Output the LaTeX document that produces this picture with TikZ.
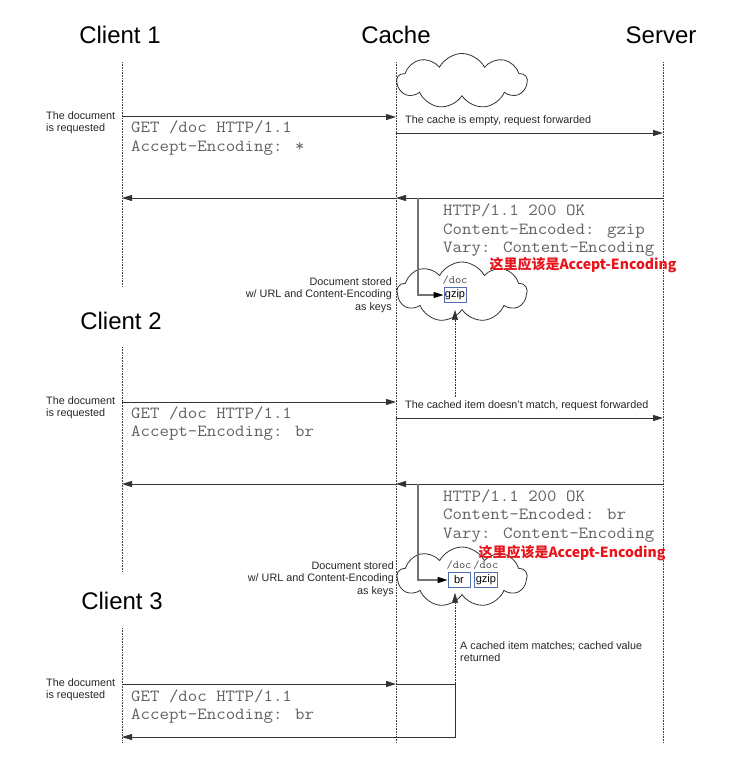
\documentclass[tikz,border=0pt]{standalone}
\usepackage{fontspec}
\setmainfont{Liberation Sans}
\newfontfamily\httpfont{Latin Modern Mono}[FakeStretch=1.08]
\newfontfamily\cjk{Noto Sans CJK SC}
\usetikzlibrary{positioning,arrows.meta,shapes.symbols}
\definecolor{warnred}{RGB}{232,20,28}
\definecolor{keyblue}{RGB}{80,110,175}

\begin{document}
\begin{tikzpicture}[x=1pt, y=-1pt,
    title/.style={font=\fontsize{24}{28}\selectfont, inner sep=0},
    lifeline/.style={densely dotted, line width=0.6pt, black!75},
    msg/.style={-{Triangle[length=10pt,width=6pt]}, line width=1pt, black!80},
    feed/.style={draw=black!55, line width=1.4pt, -{Triangle[length=10pt,width=6pt,color=black]}},
    lookup/.style={densely dotted, line width=0.6pt, black!80, -{Triangle[length=10pt,width=6pt]}},
    note/.style={font=\fontsize{10.8}{12.5}\selectfont, black!85, inner sep=0, align=left},
    http/.style={font=\httpfont\fontsize{17}{18.5}\selectfont, black!62, inner sep=0, align=left, anchor=north west},
    store/.style={cloud, cloud puffs=9, cloud puff arc=125, cloud ignores aspect, draw=black!80, line width=0.8pt, minimum width=130pt, minimum height=55pt},
    keybox/.style={draw=keyblue, line width=0.8pt, font=\fontsize{11}{13}\selectfont, minimum width=22pt, minimum height=15pt, inner sep=1pt},
    docname/.style={font=\httpfont\fontsize{11}{12}\selectfont, black!70, inner sep=0},
    warn/.style={font=\cjk\bfseries\fontsize{14}{16}\selectfont, text=warnred, inner sep=0}
]
    \useasboundingbox (0,0) rectangle (754,765);

    % Positionen der Lebenslinien
    \def\xc{122}
    \def\xk{396}
    \def\xs{663}
    \foreach \n/\y in {t/62, u/287, v/347, w/572, x/628, z/743,
                       a/117, b/133, c/198, d/402, e/418, f/484, g/684, h/737} {
        \coordinate (cl-\n) at (\xc,\y);
        \coordinate (ca-\n) at (\xk,\y);
        \coordinate (sv-\n) at (\xs,\y);
    }

    % Titel
    \node[title] (client1) at (120,35) {Client 1};
    \node[title] (cache) at (396,35) {Cache};
    \node[title] (server) at (661,35) {Server};
    \node[title] (client2) at (121,321) {Client 2};
    \node[title] (client3) at (122,601) {Client 3};

    % Lebenslinien
    \draw[lifeline] (cl-t) -- (cl-u) (cl-v) -- (cl-w) (cl-x) -- (cl-z);
    \draw[lifeline] (ca-t) -- (ca-z);
    \draw[lifeline] (sv-t) -- (sv-z);

    % Cache-Wolken
    \node[store] (cloud1) at (462,81) {};
    \node[store, minimum height=60pt] (cloud2) at (462,292) {};
    \node[store, minimum height=60pt] (cloud3) at (462,577) {};

    % Einträge im Cache
    \node[keybox] (gzip1) at (455,295) {gzip};
    \node[docname, above=2pt of gzip1] (doc1) {/doc};
    \node[keybox] (br2) at (459,580) {br};
    \node[keybox, right=4pt of br2] (gzip2) {gzip};
    \node[docname, above=2pt of br2] (doc2) {/doc};
    \node[docname, above=2pt of gzip2] (doc3) {/doc};

    % Anfrage-Texte links
    \foreach \y [count=\i] in {111,396,678} {
        \node[note, anchor=north west] (req\i) at (46,\y) {The document\\is requested};
    }

    % Client 1
    \draw[msg] (cl-a) -- (ca-a);
    \node[http] (get1) at (131,121) {GET /doc HTTP/1.1\\Accept-Encoding: *};
    \node[note, anchor=south west] (fwd1) at (405,126) {The cache is empty, request forwarded};
    \draw[msg] (ca-b) -- (sv-b);

    \coordinate (fd1) at (418,198);
    \draw[msg] (sv-c) -- (ca-c);
    \draw[msg] (ca-c) -- (cl-c);
    \draw[feed] (fd1) |- (gzip1.west);
    \node[http] (resp1) at (443,204) {HTTP/1.1 200 OK\\Content-Encoded: gzip\\Vary: Content-Encoding};
    \node[warn] (warn1) at (583,265) {这里应该是Accept-Encoding};
    \node[note, anchor=north east, align=right] (stored1) at (392,277) {Document stored\\w/ URL and Content-Encoding\\as keys};

    % Client 2
    \coordinate (lk1) at (455,397);
    \draw[lookup] (lk1) -- ([yshift=-7pt]gzip1.south);
    \draw[msg] (cl-d) -- (ca-d);
    \node[http] (get2) at (131,406) {GET /doc HTTP/1.1\\Accept-Encoding: br};
    \node[note, anchor=south west] (fwd2) at (405,411) {The cached item doesn't match, request forwarded};
    \draw[msg] (ca-e) -- (sv-e);

    \coordinate (fd2) at (418,484);
    \draw[msg] (sv-f) -- (ca-f);
    \draw[msg] (ca-f) -- (cl-f);
    \draw[feed] (fd2) |- (br2.west);
    \node[http] (resp2) at (443,489) {HTTP/1.1 200 OK\\Content-Encoded: br\\Vary: Content-Encoding};
    \node[warn] (warn2) at (572,553) {这里应该是Accept-Encoding};
    \node[note, anchor=north east, align=right] (stored2) at (394,561) {Document stored\\w/ URL and Content-Encoding\\as keys};

    % Client 3
    \coordinate (lk2) at (455,684);
    \draw[lookup] (lk2) -- ([yshift=-5pt]lk2 |- br2.south);
    \node[note, anchor=north west] (hit) at (460,641) {A cached item matches; cached value\\returned};
    \draw[msg] (cl-g) -- (ca-g);
    \draw[msg] (ca-g) -- (lk2) |- (cl-h);
    \node[http] (get3) at (131,689) {GET /doc HTTP/1.1\\Accept-Encoding: br};
\end{tikzpicture}
\end{document}
